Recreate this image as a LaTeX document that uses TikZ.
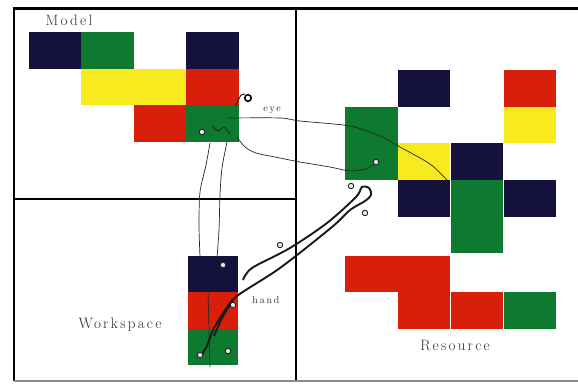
\documentclass[tikz,border=0pt]{standalone}
\usepackage{fontspec}
\setmainfont{Latin Modern Roman}
\definecolor{cnavy}{HTML}{14113C}
\definecolor{cgreen}{HTML}{0E7A30}
\definecolor{cyellow}{HTML}{F7EA1E}
\definecolor{cred}{HTML}{D81F0C}
\definecolor{ctext}{HTML}{2E2E2E}
\tikzset{
  cellbox/.style={draw=none, minimum width=52.5pt, minimum height=36.5pt, anchor=north west, inner sep=0pt, outer sep=0pt},
  frameline/.style={line width=2.8pt, black},
  bigtxt/.style={font=\fontsize{15}{15}\selectfont\addfontfeatures{LetterSpace=15}, text=ctext, inner sep=0pt},
  smalltxt/.style={font=\fontsize{10}{10}\selectfont\addfontfeatures{LetterSpace=18}, text=ctext, inner sep=0pt},
  thintrace/.style={line width=0.7pt, black!85},
  thicktrace/.style={line width=1.9pt, black!90},
  fixmark/.style={circle, draw=black!85, line width=0.9pt, fill=white!85!gray, inner sep=0pt, minimum size=5.5pt},
}
\begin{document}
\begin{tikzpicture}[x=1pt,y=-1pt]
\useasboundingbox (0,0) rectangle (578,383);
\fill[white] (0,0) rectangle (578,383);
% Model cells
\node[cellbox, fill=cnavy]   (m1) at (29,32) {};
\node[cellbox, fill=cgreen]  (m2) at (81,32) {};
\node[cellbox, fill=cnavy]   (m3) at (186,32) {};
\node[cellbox, fill=cyellow] (m4) at (81,68.5) {};
\node[cellbox, fill=cyellow] (m5) at (133.5,68.5) {};
\node[cellbox, fill=cred]    (m6) at (186,68.5) {};
\node[cellbox, fill=cred]    (m7) at (133.5,105) {};
\node[cellbox, fill=cgreen]  (m8) at (186,105) {};
% Resource cells
\node[cellbox, fill=cnavy]   (r1) at (397.5,70) {};
\node[cellbox, fill=cred]    (r2) at (503.5,70) {};
\node[cellbox, fill=cgreen]  (r3) at (345,106.5) {};
\node[cellbox, fill=cyellow] (r4) at (503.5,106.5) {};
\node[cellbox, fill=cgreen]  (r5) at (345,143) {};
\node[cellbox, fill=cyellow] (r6) at (397.5,143) {};
\node[cellbox, fill=cnavy]   (r7) at (450.5,143) {};
\node[cellbox, fill=cnavy]   (r8) at (397.5,180) {};
\node[cellbox, fill=cgreen]  (r9) at (450.5,180) {};
\node[cellbox, fill=cnavy]   (r10) at (503.5,180) {};
\node[cellbox, fill=cgreen]  (r11) at (450.5,216.5) {};
\node[cellbox, fill=cred]    (r12) at (345,255.5) {};
\node[cellbox, fill=cred]    (r13) at (397.5,255.5) {};
\node[cellbox, fill=cred]    (r14) at (397.5,292) {};
\node[cellbox, fill=cred]    (r15) at (450.5,292) {};
\node[cellbox, fill=cgreen]  (r16) at (503.5,292) {};
% Workspace cells
\node[cellbox, fill=cnavy, minimum width=50pt]  (w1) at (188,256) {};
\node[cellbox, fill=cred, minimum width=50pt]   (w2) at (188,292) {};
\node[cellbox, fill=cgreen, minimum width=50pt] (w3) at (188,328.5) {};
% Frame
\draw[frameline] (14,8.5) -- (578,8.5);
\draw[frameline] (14,7.1) -- (14,381);
\draw[frameline] (296,7.1) -- (296,381);
\draw[frameline] (14,199) -- (296,199);
\draw[line width=2pt, black!45] (14,380.5) -- (578,380.5);
% Labels
\node[bigtxt] (lmodel) at (69,20) {Model};
\node[bigtxt] (lwork) at (120,325) {Workspace};
\node[bigtxt] (lres) at (455,345) {Resource};
\node[smalltxt] (leye) at (272,110) {eye};
\node[smalltxt] (lhand) at (266,300) {hand};
% Eye traces
\draw[thintrace] plot[smooth, tension=0.5] coordinates {(228,118) (280,118) (300,121) (350,126) (380,136) (400,147) (430,164) (447,180)};
\draw[thintrace] plot[smooth, tension=0.5] coordinates {(237,137) (245,147) (256,153) (275,157) (300,162) (330,167) (350,171) (366,169) (374,164)};
\draw[thintrace] plot[smooth, tension=0.5] coordinates {(210,143) (206,165) (200,192) (199,225) (200,257)};
\draw[thintrace] plot[smooth, tension=0.5] coordinates {(227,142) (222,168) (220,195) (219,230) (217,257)};
\draw[thintrace] plot[smooth, tension=0.5] coordinates {(208,290) (209,330) (210,367)};
\draw[line width=1pt, black!85] (235,106) -- (241,95) -- (245,94);
\node[circle, draw=black, line width=1.6pt, fill=white, inner sep=0pt, minimum size=6.5pt] (f0) at (248,98) {};
% Hand traces
\draw[thicktrace] plot[smooth, tension=0.5] coordinates {(243,280) (252,268) (290,248) (327,223) (356,197) (362,187) (369,188) (371,195) (365,201) (350,210) (332,227) (280,268) (237,296) (224,312) (213,330) (207,346) (200,357)};
\draw[thicktrace] plot[smooth, tension=0.5] coordinates {(233,300) (222,318) (214,336)};
\draw[thintrace, line width=0.9pt] plot[smooth, tension=0.5] coordinates {(212,126) (218,131) (224,127) (230,134)};
% Fixation marks
\node[fixmark] (f1) at (202,132) {};
\node[fixmark] (f2) at (223,265) {};
\node[fixmark] (f3) at (233,305) {};
\node[fixmark] (f4) at (200,355) {};
\node[fixmark] (f5) at (228,351) {};
\node[fixmark] (f6) at (280,245) {};
\node[fixmark] (f7) at (365,213) {};
\node[fixmark] (f8) at (351,186) {};
\node[fixmark] (f9) at (376,162) {};
\end{tikzpicture}
\end{document}
